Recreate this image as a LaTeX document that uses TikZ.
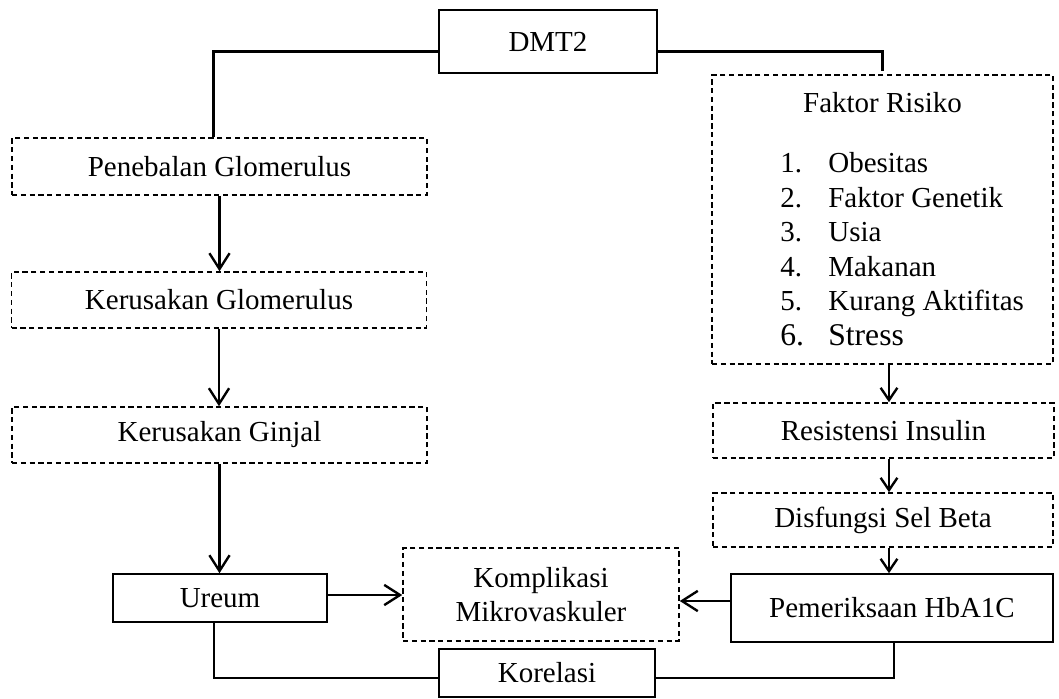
\documentclass[tikz,border=0pt]{standalone}
\usepackage{fontspec}
\setmainfont{Liberation Serif}
\usepackage{tikz}
\usetikzlibrary{arrows.meta,positioning}
\tikzset{%
	solidbox/.style = {draw, rectangle, line width=0.9pt, inner sep=0pt, text centered, font=\fontsize{16.5}{19.6}\selectfont},
	dashbox/.style  = {solidbox, dash pattern=on 3pt off 2pt},
	link/.style     = {line width=1.35pt},
	arrow/.style    = {link, -{Straight Barb[length=9pt,width=11.5pt]}},
	smallarrow/.style = {link, -{Straight Barb[length=7pt,width=9.5pt]}},
}

\begin{document}
\begin{tikzpicture}[x=0.02cm,y=-0.02cm]
		\useasboundingbox (0,0) rectangle (1059,699);
		
		\node[solidbox,minimum width=4.36cm,minimum height=1.26cm] (dmt) at (548,41.5) {DMT2};
		
		\node[dashbox,minimum width=8.3cm,minimum height=1.14cm] (penebalan) at (219.5,166.5) {Penebalan Glomerulus};
		\node[dashbox,minimum width=8.3cm,minimum height=1.12cm] (kerglom) at (219,300) {Kerusakan Glomerulus};
		\node[dashbox,minimum width=8.3cm,minimum height=1.12cm] (kerginjal) at (219.5,435) {Kerusakan Ginjal};
		\node[solidbox,minimum width=4.28cm,minimum height=0.96cm] (ureum) at (220,598) {Ureum};
		
		\node[dashbox,minimum width=5.52cm,minimum height=1.86cm,align=center] (komplikasi) at (541,594.5) {Komplikasi\\Mikrovaskuler};
		\node[solidbox,minimum width=4.32cm,minimum height=0.96cm] (korelasi) at (547,673) {Korelasi};
		
		\node[dashbox,minimum width=6.82cm,minimum height=5.78cm] (faktor) at (882.5,219.5) {};
		\node[inner sep=0pt,anchor=base,font=\fontsize{16.5}{19.6}\selectfont] (faktorjudul) at (882.5,113) {Faktor Risiko};
		\node[inner sep=0pt,anchor=base west,font=\fontsize{16.5}{19.6}\selectfont] (faktorlist) at (780,173) {\begin{tabular}[t]{@{}p{0.96cm}@{}l@{}}
			1. & Obesitas\\
			2. & Faktor Genetik\\
			3. & Usia\\
			4. & Makanan\\
			5. & Kurang Aktifitas\\
			\fontsize{18}{19.6}\selectfont 6. & \fontsize{18}{19.6}\selectfont Stress
		\end{tabular}};
		
		\node[dashbox,minimum width=6.82cm,minimum height=1.1cm] (resist) at (883.5,430.5) {Resistensi Insulin};
		\node[dashbox,minimum width=6.8cm,minimum height=1.08cm] (disfungsi) at (883,520) {Disfungsi Sel Beta};
		\node[solidbox,minimum width=6.44cm,minimum height=1.36cm] (hba) at (892,608) {Pemeriksaan HbA1C\hspace{0.4cm}};
		
		\draw[link] ([yshift=-0.2cm]dmt.west) -| ([xshift=-0.12cm]penebalan.north);
		\draw[link] ([yshift=-0.2cm]dmt.east) -| ([yshift=0.06cm]faktor.north);
		
		\draw[arrow] (penebalan.south) -- (penebalan.south |- kerglom.north);
		\draw[arrow] (kerglom.south) -- (kerglom.south |- kerginjal.north);
		\draw[arrow] (kerginjal.south) -- (kerginjal.south |- ureum.north);
		\draw[arrow] ([yshift=0.06cm]ureum.east) -- ([yshift=0.06cm]ureum.east -| komplikasi.west);
		
		\draw[smallarrow] ([xshift=0.13cm]faktor.south) -- ([xshift=0.13cm]faktor.south |- resist.north);
		\draw[smallarrow] ([xshift=0.11cm]resist.south) -- ([xshift=0.11cm]resist.south |- disfungsi.north);
		\draw[smallarrow] ([xshift=0.12cm]disfungsi.south) -- ([xshift=0.12cm]disfungsi.south |- hba.north);
		\draw[arrow] ([yshift=0.14cm]hba.west) -- ([yshift=0.14cm]hba.west -| komplikasi.east);
		
		\draw[link] ([xshift=-0.12cm]ureum.south) |- ([yshift=-0.1cm]korelasi.west);
		\draw[link] ([yshift=-0.1cm]korelasi.east) -| ([xshift=0.04cm]hba.south);
	\end{tikzpicture}
\end{document}
